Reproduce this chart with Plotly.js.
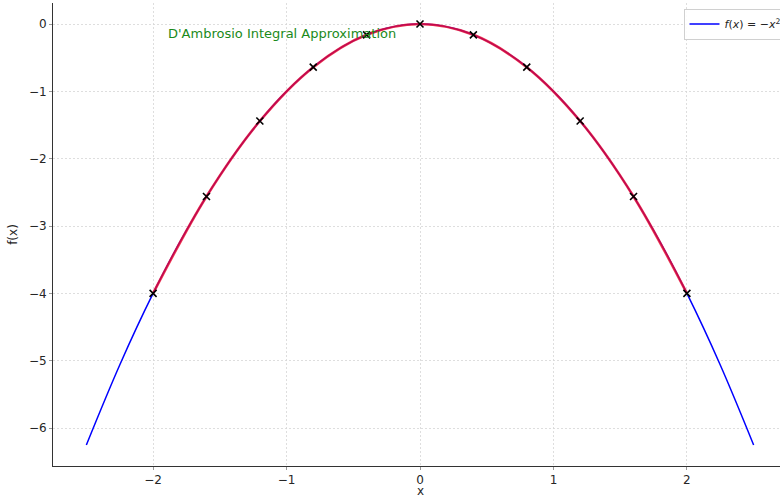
<!DOCTYPE html>
<html><head><meta charset="utf-8">
<script src="https://cdn.plot.ly/plotly-3.0.1.min.js"></script>
<style>html,body{margin:0;padding:0;overflow:hidden;background:#fff;}#chart{width:800px;height:499px;}</style>
</head><body><div id="chart"></div>
<script>
// f(x) = -x^2 curve (read at 0.25 steps)
const curveX = [-2.5,-2.25,-2,-1.75,-1.5,-1.25,-1,-0.75,-0.5,-0.25,0,0.25,0.5,0.75,1,1.25,1.5,1.75,2,2.25,2.5];
const curveY = [-6.25,-5.0625,-4,-3.0625,-2.25,-1.5625,-1,-0.5625,-0.25,-0.0625,0,-0.0625,-0.25,-0.5625,-1,-1.5625,-2.25,-3.0625,-4,-5.0625,-6.25];
// approximation sample points
const sampleX = [-2,-1.6,-1.2,-0.8,-0.4,0,0.4,0.8,1.2,1.6,2];
const sampleY = [-4,-2.56,-1.44,-0.64,-0.16,0,-0.16,-0.64,-1.44,-2.56,-4];
const legendLabel = '<i>f</i>(<i>x</i>) = −<i>x</i><sup>2</sup>';
const annotationText = "D'Ambrosio Integral Approximation";
const xTitle = 'x';
const yTitle = 'f(x)';

const traces = [
  {x: curveX, y: curveY, mode:'lines', line:{color:'#0000ff', width:1.5, shape:'spline'}, name: legendLabel},
  {x: sampleX, y: sampleY, mode:'lines', line:{color:'rgba(235,10,40,0.82)', width:2.6, shape:'spline'}, showlegend:false},
  {x: sampleX, y: sampleY, mode:'markers', marker:{symbol:'x-thin', size:7, line:{color:'#000', width:1.6}}, showlegend:false}
];
const axisCommon = {
  showline:true, linecolor:'#333', linewidth:1,
  showgrid:true, gridcolor:'#d6d6d6', griddash:'2px,2px', gridwidth:0.8,
  zeroline:false, ticks:'outside', ticklen:3, tickcolor:'#999',
  tickfont:{family:'DejaVu Sans', size:12, color:'#262626'}, automargin:false
};
const layout = {
  width:800, height:499,
  margin:{l:53, r:13, t:3, b:33},
  paper_bgcolor:'#fff', plot_bgcolor:'#fff',
  xaxis: Object.assign({}, axisCommon, {range:[-2.75,2.75], tickvals:[-2,-1,0,1,2], ticktext:['−2','−1','0','1','2']}),
  yaxis: Object.assign({}, axisCommon, {range:[-6.5625,0.3125], tickvals:[0,-1,-2,-3,-4,-5,-6], ticktext:['0','−1','−2','−3','−4','−5','−6'],
    title:{text:yTitle, font:{family:'DejaVu Sans', size:12, color:'#262626'}, standoff:8}}),
  showlegend:true,
  legend:{x:0.859, y:0.988, xanchor:'left', yanchor:'top', bgcolor:'rgba(255,255,255,0.9)', bordercolor:'#d0d0d0', borderwidth:1,
    font:{family:'DejaVu Sans', size:11, color:'#262626'}, itemwidth:30},
  annotations:[
    {x:-1.9, y:-0.135, xref:'x', yref:'y', text:annotationText, showarrow:false, xanchor:'left', yanchor:'middle',
     font:{family:'DejaVu Sans', size:13, color:'#1a8a1a'}},
    {x:0, y:-0.054, xref:'x', yref:'paper', text:xTitle, showarrow:false, xanchor:'center', yanchor:'middle',
     borderpad:0, font:{family:'DejaVu Sans', size:12, color:'#262626'}}
  ]
};
Plotly.newPlot('chart', traces, layout, {displayModeBar:false, staticPlot:true});
</script></body></html>
